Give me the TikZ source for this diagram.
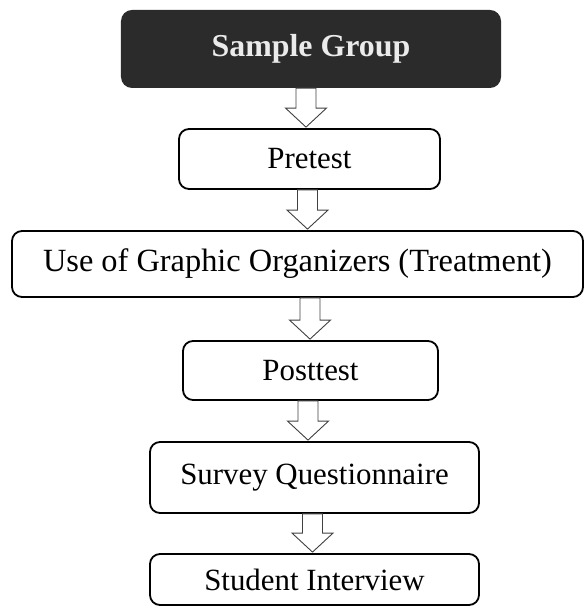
\documentclass[tikz,border=0pt]{standalone}
\usepackage{fontspec}
\setmainfont{Liberation Serif}
\usetikzlibrary{calc}
\begin{document}
\begin{tikzpicture}[x=1bp,y=1bp,
  box/.style={draw=black,line width=1.8bp,rounded corners=10bp,fill=white,inner sep=0pt,
    font=\fontsize{31}{36}\selectfont},
  darkbox/.style={fill=black!83,draw=none,rounded corners=11bp,inner sep=0pt,text=white!92!black,
    font=\fontsize{32}{37}\selectfont\bfseries},
  blockarr/.style={draw=black!75,line width=0.9bp,fill=white}]
\useasboundingbox (0,0) rectangle (585,610);
\node[darkbox,minimum width=380bp,minimum height=78bp] (sg) at (311,561) {Sample Group};
\node[box,minimum width=261bp,minimum height=60bp] (pre) at (309.5,451) {Pretest};
\node[box,minimum width=571bp,minimum height=66bp,font=\fontsize{32.5}{38}\selectfont] (use) at (297.5,346) {Use of Graphic Organizers (Treatment)};
\node[box,minimum width=255bp,minimum height=59bp] (post) at (310.5,239.5) {Posttest};
\node[box,minimum width=329bp,minimum height=71bp] (surv) at (314.5,132.5) {Survey Questionnaire};
\node[box,minimum width=329bp,minimum height=51bp] (stud) at (314.5,30.5) {Student Interview};
\newcommand{\barrow}[3]{%
  \draw[blockarr] let \p1=(#1.south), \p2=(#2.north) in
   (#3bp-10bp,\y1) -- (#3bp-10bp,\y2+20bp) -- (#3bp-20.5bp,\y2+20bp) -- (#3bp,\y2+1bp)
   -- (#3bp+20.5bp,\y2+20bp) -- (#3bp+10bp,\y2+20bp) -- (#3bp+10bp,\y1) -- cycle;}
\barrow{sg}{pre}{306}
\barrow{pre}{use}{307.5}
\barrow{use}{post}{310}
\barrow{post}{surv}{308}
\barrow{surv}{stud}{312.5}
\end{tikzpicture}
\end{document}
